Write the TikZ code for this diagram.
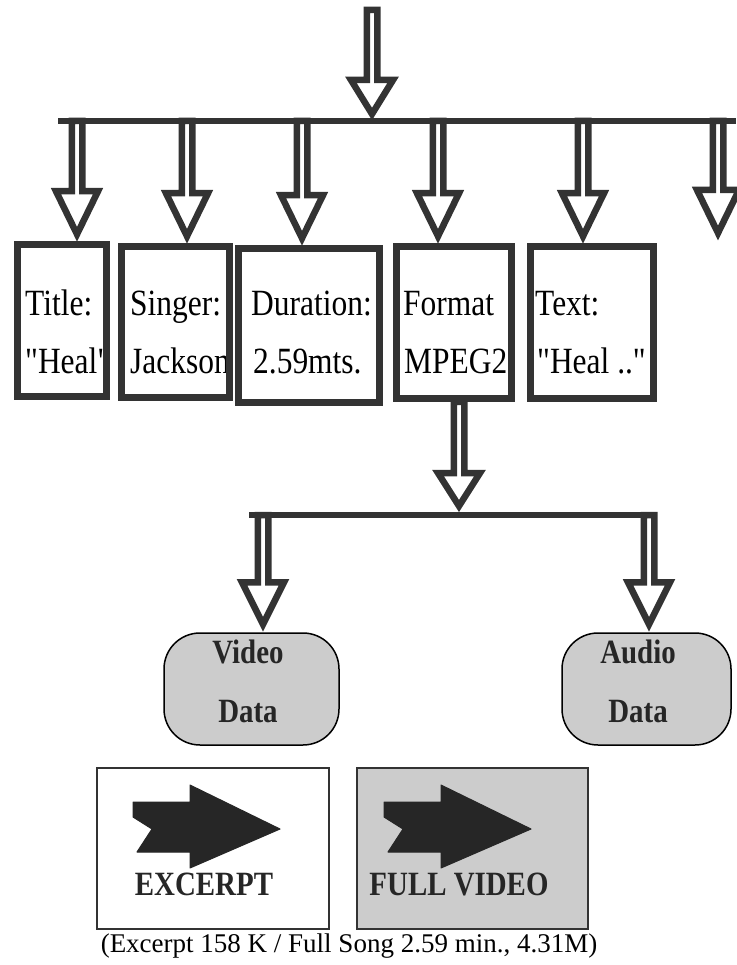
\documentclass[tikz,border=0pt]{standalone}
\usepackage{fontspec}
\setmainfont{Liberation Serif}
\newfontfamily\tallserif{Liberation Serif}[FakeStretch=0.85]
\usetikzlibrary{calc,positioning}

\tikzset{
  outline/.style={draw=black!80, line width=6.5pt},
  blockarrow/.style={outline, fill=white, line join=miter},
  busbar/.style={draw=black!80, line width=6.5pt},
  fieldbox/.style={outline, rectangle, inner sep=0pt},
  fieldtxt/.style={anchor=base west, inner sep=0pt, font=\tallserif\fontsize{37}{40}\selectfont},
  databox/.style={draw=black, line width=1.5pt, fill=black!20, rounded corners=36pt, inner sep=0pt},
  datatxt/.style={anchor=base, inner sep=0pt, text=black!85, font=\tallserif\bfseries\fontsize{34}{38}\selectfont},
  clipbox/.style={draw=black!80, line width=1.2pt, rectangle, inner sep=0pt},
  bigarrow/.style={fill=black!85, draw=black!85, line width=1pt, line join=round},
}

% hollow arrow pointing down: [head length]{from}{tip}
\newcommand{\blockdown}[3][43pt]{%
  \draw[blockarrow] let \p1=(#2), \p2=(#3) in
    (\x2-5.25pt,\y1) -- (\x2-5.25pt,\y2+#1) -- (\x2-21pt,\y2+#1) -- (\x2,\y2)
    -- (\x2+21pt,\y2+#1) -- (\x2+5.25pt,\y2+#1) -- (\x2+5.25pt,\y1) -- cycle;}

% filled arrow on a clip box
\newcommand{\playarrow}[1]{%
  \filldraw[bigarrow, shift={(#1)}] (-80,-46.5) -- (-23,-46.5) -- (-23,-63.5) -- (67,-19.5)
    -- (-23,19.5) -- (-23,3.5) -- (-76,3.5) -- (-61,-19.5) -- (-80,-31.5) -- cycle;}

\begin{document}
\begin{tikzpicture}[x=1pt, y=-1pt]
  \useasboundingbox (0,0) rectangle (736,965);

  % fields of the song
  \node[fieldtxt] (titleA) at (25,315) {Title:};
  \node[fieldtxt] (titleB) at (25,373) {"Heal"};
  \node[fieldtxt] (singerA) at (130,315) {Singer:};
  \node[fieldtxt] (singerB) at (130,373) {Jackson};
  \node[fieldtxt] (durA) at (251,315) {Duration:};
  \node[fieldtxt] (durB) at (253,373) {2.59mts.};
  \node[fieldtxt] (fmtA) at (403,315) {Format};
  \node[fieldtxt] (fmtB) at (404,373) {MPEG2};
  \node[fieldtxt] (textA) at (535,315) {Text:};
  \node[fieldtxt] (textB) at (537,373) {"Heal .."};

  \node[fieldbox, minimum width=89, minimum height=152] (title) at (62,320.5) {};
  \node[fieldbox, minimum width=108, minimum height=151] (singer) at (175.5,322) {};
  \node[fieldbox, minimum width=141, minimum height=154] (dur) at (309,325.5) {};
  \node[fieldbox, minimum width=115, minimum height=152] (fmt) at (454,322.5) {};
  \node[fieldbox, minimum width=123, minimum height=152] (text) at (592,322.5) {};

  % top fan-out
  \coordinate (src) at (372,10);
  \coordinate (hub) at (372,114);
  \coordinate (bar) at (58,121);
  \coordinate (barend) at (736,121);
  \coordinate (more) at (718,233);
  \blockdown[34pt]{src}{hub}
  \blockdown{bar}{[xshift=15pt,yshift=7pt]title.north}
  \blockdown{bar}{[xshift=11.5pt,yshift=7pt]singer.north}
  \blockdown{bar}{[xshift=-7pt,yshift=7pt]dur.north}
  \blockdown{bar}{[xshift=-16pt,yshift=7pt]fmt.north}
  \blockdown{bar}{[xshift=-9pt,yshift=7pt]text.north}
  \blockdown{bar}{more}
  \draw[busbar] (bar) -- (barend);

  % data of the format
  \node[databox, minimum width=175, minimum height=112] (video) at (251.5,689) {};
  \node[databox, minimum width=169, minimum height=112] (audio) at (646.5,689) {};
  \node[datatxt] (videoA) at (248,663) {Video};
  \node[datatxt] (videoB) at (248,722) {Data};
  \node[datatxt] (audioA) at (638,663) {Audio};
  \node[datatxt] (audioB) at (638,722) {Data};

  \coordinate (hub2) at (459,506);
  \coordinate (bar2) at (249,515);
  \coordinate (bar2end) at (657,515);
  \blockdown[33pt]{[xshift=5pt]fmt.south}{hub2}
  \blockdown[42pt]{bar2}{[xshift=11.5pt,yshift=8pt]video.north}
  \blockdown[42pt]{bar2}{[xshift=2.5pt,yshift=8pt]audio.north}
  \draw[busbar] (bar2) -- (bar2end);

  % clips
  \node[clipbox, fill=white, minimum width=232, minimum height=161] (excerpt) at (213,848.5) {};
  \node[clipbox, fill=black!20, minimum width=231, minimum height=161] (full) at (472.5,848.5) {};
  \playarrow{excerpt.center}
  \playarrow{[xshift=-8.5pt]full.center}
  \node[datatxt] (excerptlbl) at (204,895) {EXCERPT};
  \node[datatxt] (fulllbl) at (459,895) {FULL VIDEO};

  \node[anchor=base, inner sep=0pt, font=\fontsize{27}{30}\selectfont] (sizes) at (349,952)
    {(Excerpt 158 K / Full Song 2.59 min., 4.31M)};
\end{tikzpicture}
\end{document}
